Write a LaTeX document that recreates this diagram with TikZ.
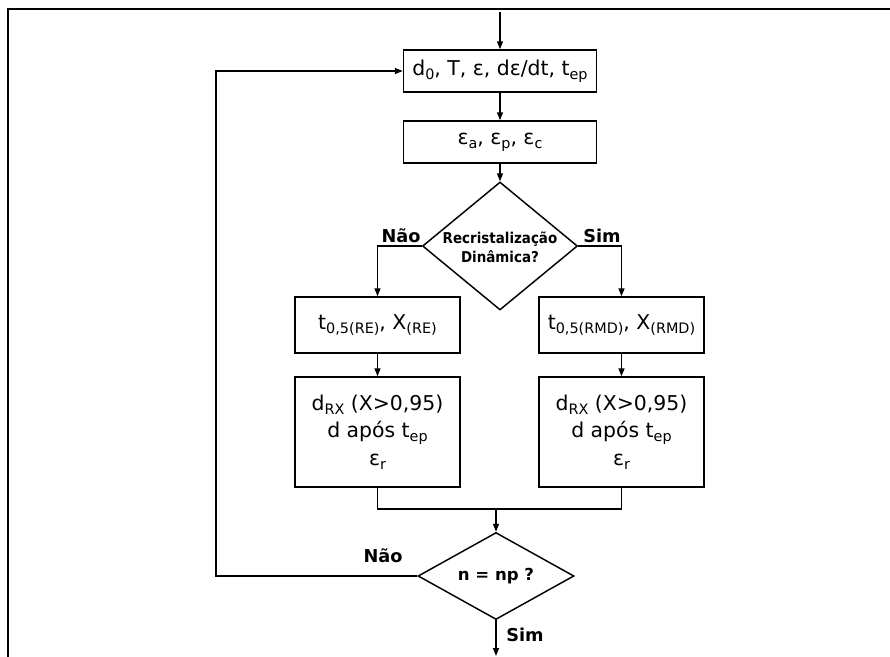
\documentclass[tikz,border=0pt]{standalone}
\usepackage{fontspec}
\setmainfont{DejaVu Sans}
\newfontfamily\narrowfont{DejaVu Sans}[FakeStretch=0.9]
\usetikzlibrary{arrows.meta,shapes.geometric}
\newcommand\sbx[1]{\raisebox{-0.35ex}{\fontsize{10.8}{12}\selectfont #1}}
\begin{document}
\begin{tikzpicture}[x=0.75pt,y=-0.75pt,
  line width=1.1pt,
  box/.style={draw, inner sep=0pt, font=\fontsize{15.3}{20.6}\selectfont, align=center},
  dia/.style={draw, diamond, inner sep=0pt},
  dtext/.style={font=\narrowfont\bfseries\fontsize{11.2}{14}\selectfont, align=center},
  lbl/.style={font=\bfseries\fontsize{13.3}{15}\selectfont},
  arr/.style={-{Triangle[length=6pt,width=4.5pt]}},
]
\useasboundingbox (0,0) rectangle (890,657);
\draw[line width=1.5pt] (8,657) -- (8,9) -- (890,9);

\node[box, minimum width=144.75pt, minimum height=31.5pt] (b1) at (500,71)
  {d\sbx{0}, T, ε, dε/dt, t\sbx{ep}};
\node[box, minimum width=144.75pt, minimum height=31.5pt] (b2) at (500,142)
  {ε\sbx{a}, ε\sbx{p}, ε\sbx{c}};
\node[dia, minimum width=116.25pt, minimum height=96pt] (d1) at (500,246) {};
\node[dtext] (d1t) at (500,247) {Recristalização\\Dinâmica?};
\node[box, minimum width=123.75pt, minimum height=42pt] (b3) at (377.5,325)
  {t\sbx{0,5(RE)}, X\sbx{(RE)}};
\node[box, minimum width=123.75pt, minimum height=42pt] (b4) at (621.5,325)
  {t\sbx{0,5(RMD)}, X\sbx{(RMD)}};
\node[box, minimum width=123.75pt, minimum height=82.5pt] (b5) at (377.5,432)
  {d\sbx{RX} (X>0,95)\\d após t\sbx{ep}\\ε\sbx{r}};
\node[box, minimum width=123.75pt, minimum height=82.5pt] (b6) at (621.5,432)
  {d\sbx{RX} (X>0,95)\\d após t\sbx{ep}\\ε\sbx{r}};
\node[dia, minimum width=117pt, minimum height=65.25pt] (d2) at (496,576) {};
\node[font=\bfseries\fontsize{12.4}{14}\selectfont] (d2t) at (496,576) {n = np ?};

\node[lbl] (n1) at (401,236) {Não};
\node[lbl] (s1) at (602,236) {Sim};
\node[lbl] (n2) at (383,556) {Não};
\node[lbl] (s2) at (525,635) {Sim};

\coordinate (start) at (500,12);
\coordinate (m) at (496,509);
\coordinate (fb) at (216,576);
\coordinate (end) at (496,656);

\draw[arr] (start) -- (b1.north);
\draw[arr] (b1.south) -- (b2.north);
\draw[arr] (b2.south) -- (d1.north);
\draw[arr] (d1.west) -| (b3.north);
\draw[arr] (d1.east) -| (b4.north);
\draw[arr] (b3.south) -- (b5.north);
\draw[arr] (b4.south) -- (b6.north);
\draw (b5.south) |- (m) -| (b6.south);
\draw[arr] (m) -- (d2.north);
\draw[arr] (d2.west) -- (fb) |- (b1.west);
\draw[arr] (d2.south) -- (end);
\end{tikzpicture}
\end{document}
